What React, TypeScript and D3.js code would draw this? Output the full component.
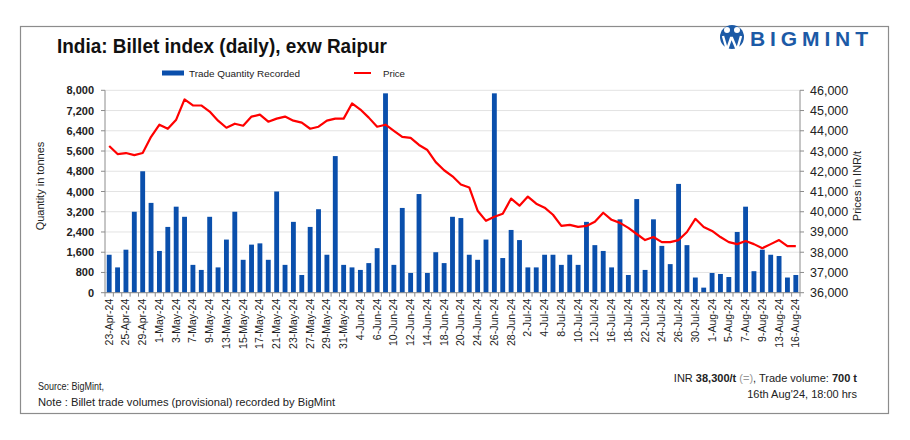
import React from "react";
import * as d3 from "d3";

const dates: string[] = [
  "23-Apr-24","24-Apr-24","25-Apr-24","26-Apr-24","29-Apr-24","30-Apr-24",
  "1-May-24","2-May-24","3-May-24","6-May-24","7-May-24","8-May-24","9-May-24","10-May-24","13-May-24","14-May-24","15-May-24","16-May-24","17-May-24","20-May-24","21-May-24","22-May-24","23-May-24","24-May-24","27-May-24","28-May-24","29-May-24","30-May-24","31-May-24",
  "3-Jun-24","4-Jun-24","5-Jun-24","6-Jun-24","7-Jun-24","10-Jun-24","11-Jun-24","12-Jun-24","13-Jun-24","14-Jun-24","17-Jun-24","18-Jun-24","19-Jun-24","20-Jun-24","21-Jun-24","24-Jun-24","25-Jun-24","26-Jun-24","27-Jun-24","28-Jun-24",
  "1-Jul-24","2-Jul-24","3-Jul-24","4-Jul-24","5-Jul-24","8-Jul-24","9-Jul-24","10-Jul-24","11-Jul-24","12-Jul-24","15-Jul-24","16-Jul-24","17-Jul-24","18-Jul-24","19-Jul-24","22-Jul-24","23-Jul-24","24-Jul-24","25-Jul-24","26-Jul-24","29-Jul-24","30-Jul-24","31-Jul-24",
  "1-Aug-24","2-Aug-24","5-Aug-24","6-Aug-24","7-Aug-24","8-Aug-24","9-Aug-24","12-Aug-24","13-Aug-24","14-Aug-24","16-Aug-24",
];

const volumes: number[] = [
  1500,1000,1700,3200,4800,3550,1650,2600,3400,3000,
  1100,900,3000,1000,2100,3200,1300,1900,1950,1300,
  4000,1100,2800,700,2600,3300,1500,5400,1100,1000,
  900,1170,1760,7880,1100,3350,780,3900,780,1600,
  1170,3000,2950,1500,1300,2100,7880,1370,2480,2080,
  1000,1000,1500,1500,1100,1500,1100,2800,1880,1650,
  1000,2900,700,3700,900,2900,1850,1130,4300,1880,
  600,200,780,740,620,2400,3400,850,1700,1500,
  1450,600,700,
];

const prices: number[] = [
  43250,42850,42900,42800,42900,43700,44300,44100,44550,45550,
  45250,45250,44950,44500,44150,44350,44250,44700,44800,44450,
  44600,44700,44500,44400,44100,44200,44500,44600,44600,45350,
  45050,44650,44200,44300,44000,43700,43650,43300,43050,42450,
  42050,41750,41350,41200,40050,39550,39750,39900,40650,40300,
  40750,40400,40200,39850,39300,39350,39250,39300,39500,39950,
  39600,39450,39200,38900,38600,38750,38500,38500,38600,39000,
  39650,39250,39050,38750,38500,38400,38550,38400,38200,38400,
  38600,38300,38300,
];

const leftTicks: number[] = [0, 800, 1600, 2400, 3200, 4000, 4800, 5600, 6400, 7200, 8000];
const rightTicks: number[] = [36000, 37000, 38000, 39000, 40000, 41000, 42000, 43000, 44000, 45000, 46000];

const FONT = "'Liberation Sans', Arial, sans-serif";
const BLUE = "#0a4fac";
const RED = "#ff0000";

export default function App() {
  const left = 105, right = 800, top = 90.3, bottom = 292.7;
  const x = d3.scaleBand<string>().domain(dates).range([left, right]).paddingInner(0.42).paddingOuter(0.21);
  const yL = d3.scaleLinear().domain([0, 8000]).range([bottom, top]);
  const yR = d3.scaleLinear().domain([36000, 46000]).range([bottom, top]);
  const fmt = d3.format(",");
  const line = d3
    .line<number>()
    .x((_, i) => (x(dates[i]) as number) + x.bandwidth() / 2)
    .y((d) => yR(d))
    .curve(d3.curveLinear);
  const step = x.step();
  const tickXs = dates.map((_, i) => left + i * step);
  tickXs.push(right);

  return (
    <svg
      width={910}
      height={440}
      style={{ position: "fixed", left: 0, top: 0, background: "#fff" }}
      fontFamily={FONT}
    >
      <rect x={0} y={0} width={910} height={440} fill="#fff" />
      <rect x={20.5} y={26.5} width={868} height={387} fill="#fff" stroke="#8c8c8c" strokeWidth={1.2} />

      {/* Title */}
      <text x={57} y={53} fontSize={20} fontWeight="bold" fill="#111" textLength={330} lengthAdjust="spacingAndGlyphs">
        India: Billet index (daily), exw Raipur
      </text>

      {/* Logo */}
      <g>
        <circle cx={732} cy={37} r={12} fill="#1c5aa6" />
        <circle cx={727} cy={30} r={3} fill="#fff" />
        <circle cx={737} cy={30} r={3} fill="#fff" />
        <path d="M723,36 L727,50 L731,38 L732,38 L737,50 L741,36" fill="none" stroke="#fff" strokeWidth={2.4} />
        <text x={750} y={46} fontSize={21} fontWeight="bold" fill="#1c5aa6" textLength={118} lengthAdjust="spacing">
          BIGMINT
        </text>
      </g>

      {/* Legend */}
      <rect x={162} y={70.5} width={22} height={5} fill={BLUE} />
      <text x={189} y={76.5} fontSize={9} fill="#222" textLength={111} lengthAdjust="spacingAndGlyphs">
        Trade Quantity Recorded
      </text>
      <line x1={354} x2={371} y1={73} y2={73} stroke={RED} strokeWidth={2} />
      <text x={383} y={76.5} fontSize={9} fill="#222" textLength={22} lengthAdjust="spacingAndGlyphs">
        Price
      </text>

      {/* Gridlines */}
      {leftTicks.map((t) => (
        <line key={"g" + t} x1={left} x2={right} y1={yL(t)} y2={yL(t)} stroke="#e3e3e3" strokeWidth={1} />
      ))}

      {/* Bars */}
      {volumes.map((v, i) => (
        <rect
          key={"b" + i}
          x={x(dates[i]) as number}
          y={yL(v)}
          width={x.bandwidth()}
          height={bottom - yL(v)}
          fill={BLUE}
        />
      ))}

      {/* Price line */}
      <path d={line(prices) || ""} fill="none" stroke={RED} strokeWidth={2.2} strokeLinejoin="round" />

      {/* Axes */}
      <line x1={left} x2={left} y1={top} y2={bottom} stroke="#8c8c8c" />
      <line x1={right} x2={right} y1={top} y2={bottom} stroke="#8c8c8c" />
      <line x1={left} x2={right} y1={bottom} y2={bottom} stroke="#8c8c8c" />
      {leftTicks.map((t) => (
        <line key={"lt" + t} x1={left - 4} x2={left} y1={yL(t)} y2={yL(t)} stroke="#8c8c8c" />
      ))}
      {rightTicks.map((t) => (
        <line key={"rt" + t} x1={right} x2={right + 4} y1={yR(t)} y2={yR(t)} stroke="#8c8c8c" />
      ))}
      {tickXs.map((tx, i) => (
        <line key={"xt" + i} x1={tx} x2={tx} y1={bottom} y2={bottom + 4} stroke="#8c8c8c" />
      ))}

      {leftTicks.map((t) => (
        <text key={"ll" + t} x={94} y={yL(t) + 4} fontSize={11} fontWeight="bold" fill="#222" textAnchor="end">
          {fmt(t)}
        </text>
      ))}
      {rightTicks.map((t) => (
        <text key={"rl" + t} x={810} y={yR(t) + 4.5} fontSize={12.5} fill="#222">
          {fmt(t)}
        </text>
      ))}

      {dates.map((d, i) =>
        i % 2 === 0 ? (
          <text
            key={"xl" + i}
            transform={`translate(${(x(d) as number) + x.bandwidth() / 2 + 3.5},${bottom + 6}) rotate(-90)`}
            fontSize={10.5}
            fill="#222"
            textAnchor="end"
          >
            {d}
          </text>
        ) : null
      )}

      {/* Axis titles */}
      <text transform="translate(44,186) rotate(-90)" fontSize={11} fill="#222" textAnchor="middle">
        Quantity in tonnes
      </text>
      <text transform="translate(861,186) rotate(-90)" fontSize={11} fill="#222" textAnchor="middle">
        Prices in INR/t
      </text>

      {/* Footer */}
      <text x={38} y={390} fontSize={11} fill="#222" textLength={66} lengthAdjust="spacingAndGlyphs">
        Source: BigMint,
      </text>
      <text x={38} y={406} fontSize={11} fill="#222" textLength={297} lengthAdjust="spacingAndGlyphs">
        Note : Billet trade volumes (provisional) recorded by BigMint
      </text>
      <text x={857} y={382} fontSize={11} fill="#222" textAnchor="end">
        INR <tspan fontWeight="bold">38,300/t</tspan> <tspan fill="#999">(=)</tspan>, Trade volume: <tspan fontWeight="bold">700 t</tspan>
      </text>
      <text x={857} y={398} fontSize={11} fill="#222" textAnchor="end">
        16th Aug'24, 18:00 hrs
      </text>
    </svg>
  );
}
